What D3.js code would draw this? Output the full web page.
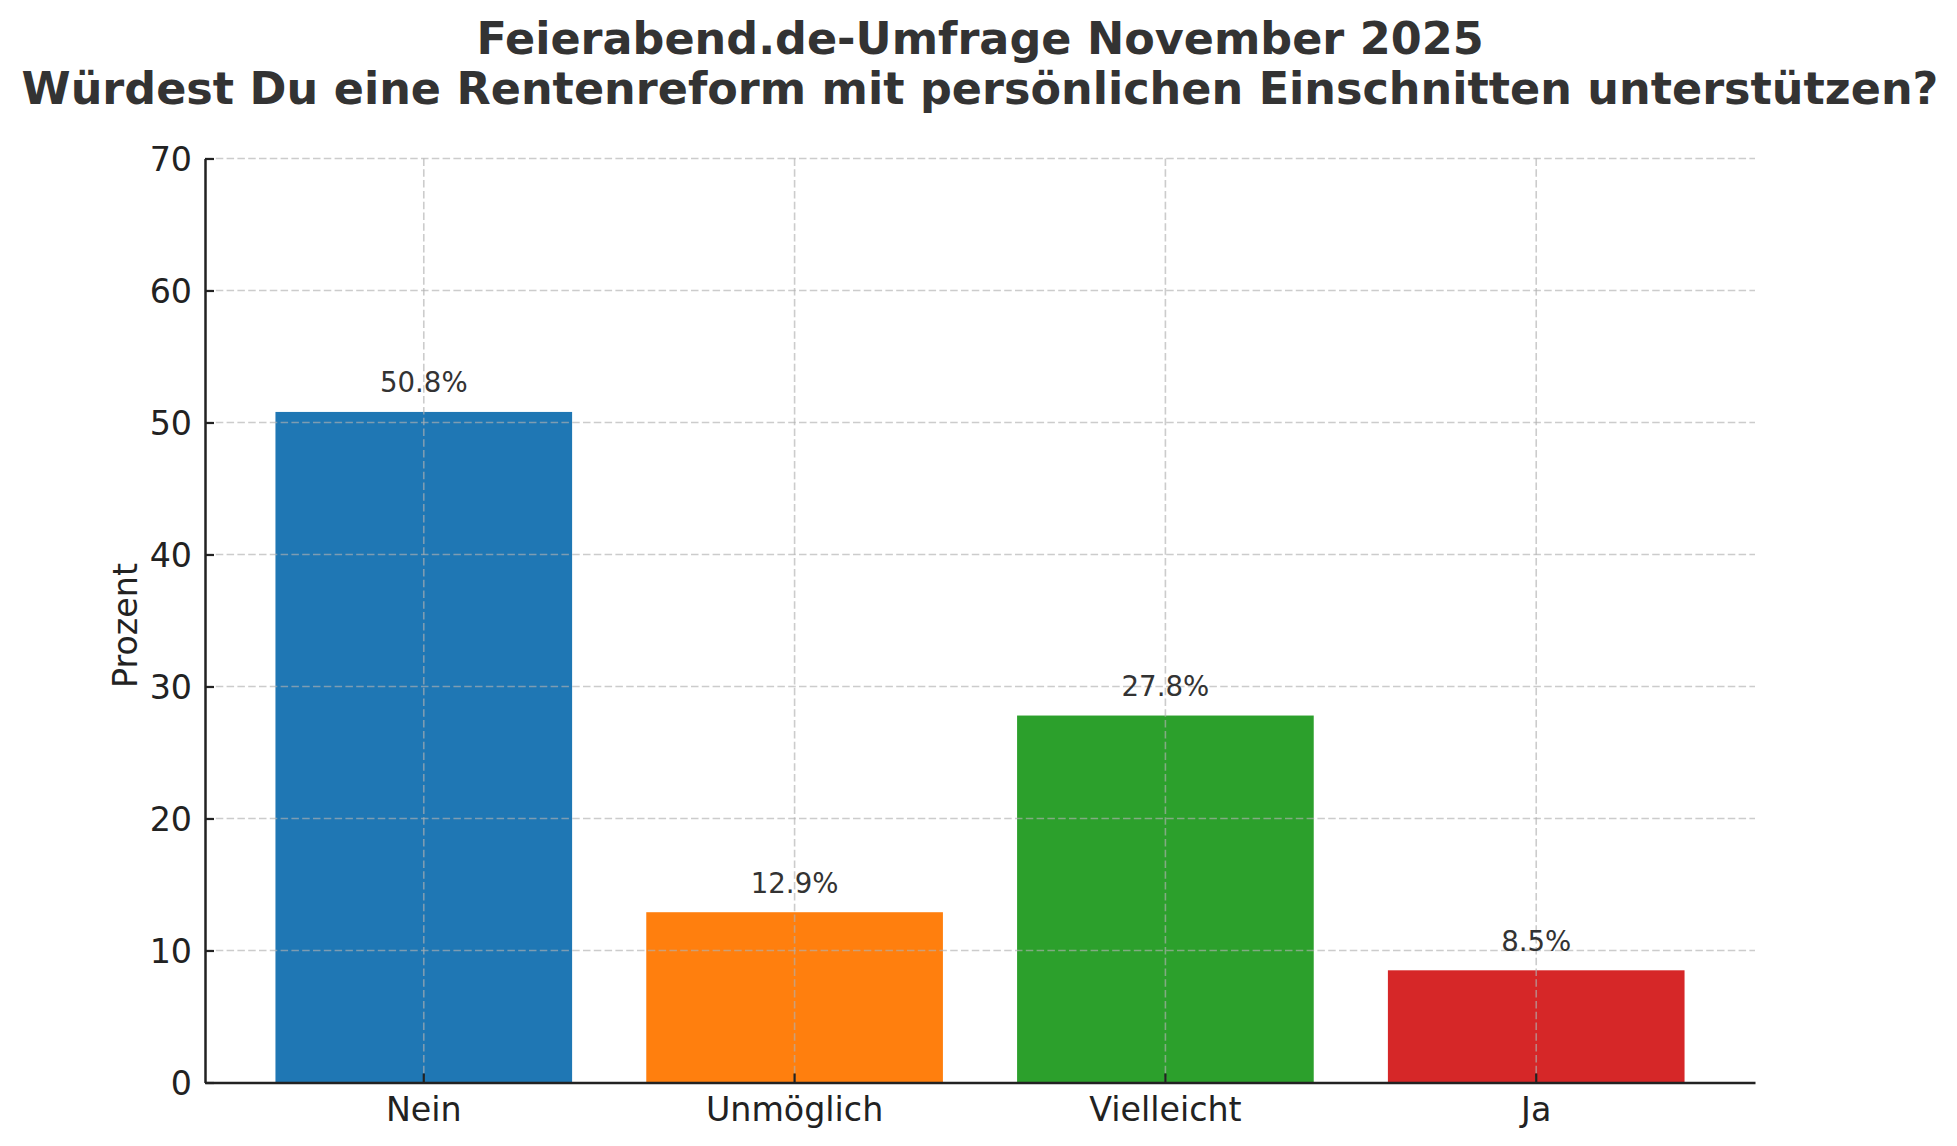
<!DOCTYPE html>
<html>
<head>
<meta charset="utf-8">
<script src="https://cdn.jsdelivr.net/npm/d3@7"></script>
<style>
  body { margin: 0; background: #fff; }
  text { font-family: "DejaVu Sans", sans-serif; }
</style>
</head>
<body>
<div id="chart"></div>
<script>
// Umfrage-Balken
const categories = ['Nein', 'Unmöglich', 'Vielleicht', 'Ja'];
const values = [50.8, 12.9, 27.8, 8.5];
const barColors = ['#1f77b4', '#ff7f0e', '#2ca02c', '#d62728'];
const yTicks = [0, 10, 20, 30, 40, 50, 60, 70];
const titleLines = ['Feierabend.de-Umfrage November 2025',
    'Würdest Du eine Rentenreform mit persönlichen Einschnitten unterstützen?'];

function drawChart() {
    const width = 1957;
    const height = 1146;
    const left = 205, right = 1755, top = 158.5, bottom = 1082.5;

    const svg = d3.select('#chart').append('svg')
        .attr('width', width)
        .attr('height', height);

    const x = d3.scaleBand()
        .domain(categories)
        .range([left, right])
        .paddingInner(0.2)
        .paddingOuter(0.19);

    const y = d3.scaleLinear()
        .domain([0, 70])
        .range([bottom, top]);

    // bars
    svg.selectAll('.bar')
        .data(values)
        .enter()
        .append('rect')
        .attr('class', 'bar')
        .attr('x', (d, i) => x(categories[i]))
        .attr('y', d => y(d))
        .attr('width', x.bandwidth())
        .attr('height', d => y(0) - y(d))
        .attr('fill', (d, i) => barColors[i]);

    // grid on top of bars
    const grid = svg.append('g')
        .attr('stroke', '#b0b0b0')
        .attr('stroke-opacity', 0.65)
        .attr('stroke-width', 1.6)
        .attr('stroke-dasharray', '7.5,3.3');

    yTicks.slice(1).forEach(t => {
        grid.append('line')
            .attr('x1', left).attr('x2', right)
            .attr('y1', y(t)).attr('y2', y(t));
    });
    categories.forEach(c => {
        const cx = x(c) + x.bandwidth() / 2;
        grid.append('line')
            .attr('x1', cx).attr('x2', cx)
            .attr('y1', top).attr('y2', bottom);
    });

    // value labels
    svg.selectAll('.val')
        .data(values)
        .enter()
        .append('text')
        .attr('x', (d, i) => x(categories[i]) + x.bandwidth() / 2)
        .attr('y', d => y(d + 1) - 6.5)
        .attr('text-anchor', 'middle')
        .attr('font-size', '27.6px')
        .attr('fill', '#333')
        .text(d => d.toFixed(1) + '%');

    // axes
    const yAxis = svg.append('g')
        .attr('transform', `translate(${left},0)`)
        .call(d3.axisLeft(y).tickValues(yTicks).tickSizeInner(-9).tickSizeOuter(0).tickPadding(13));
    yAxis.select('.domain').attr('stroke', '#222').attr('stroke-width', 2.5);
    yAxis.selectAll('.tick line').attr('stroke', '#222').attr('stroke-width', 2.2);
    yAxis.selectAll('.tick text')
        .attr('font-size', '33.3px')
        .attr('fill', '#222')
        .attr('font-family', 'DejaVu Sans')
        .attr('dy', '0.36em');

    const xAxis = svg.append('g')
        .attr('transform', `translate(0,${bottom})`)
        .call(d3.axisBottom(x).tickSizeInner(-9).tickSizeOuter(0).tickPadding(12));
    xAxis.select('.domain').attr('stroke', '#222').attr('stroke-width', 2.5);
    xAxis.selectAll('.tick line').attr('stroke', '#222').attr('stroke-width', 2.2);
    xAxis.selectAll('.tick text')
        .attr('font-size', '33.3px')
        .attr('fill', '#222')
        .attr('font-family', 'DejaVu Sans')
        .attr('y', 0)
        .attr('dy', 0)
        .attr('transform', 'translate(0,38)');

    // y label
    svg.append('text')
        .attr('transform', `translate(137,${(top + bottom) / 2 + 5}) rotate(-90)`)
        .attr('text-anchor', 'middle')
        .attr('font-size', '33.3px')
        .attr('fill', '#222')
        .text('Prozent');

    // title
    svg.append('g').selectAll('text')
        .data(titleLines)
        .enter()
        .append('text')
        .attr('x', (left + right) / 2)
        .attr('y', (d, i) => 53.5 + i * 50.8)
        .attr('text-anchor', 'middle')
        .attr('font-size', '44.5px')
        .attr('font-weight', 'bold')
        .attr('fill', '#333')
        .text(d => d);
}

drawChart();
</script>
</body>
</html>
